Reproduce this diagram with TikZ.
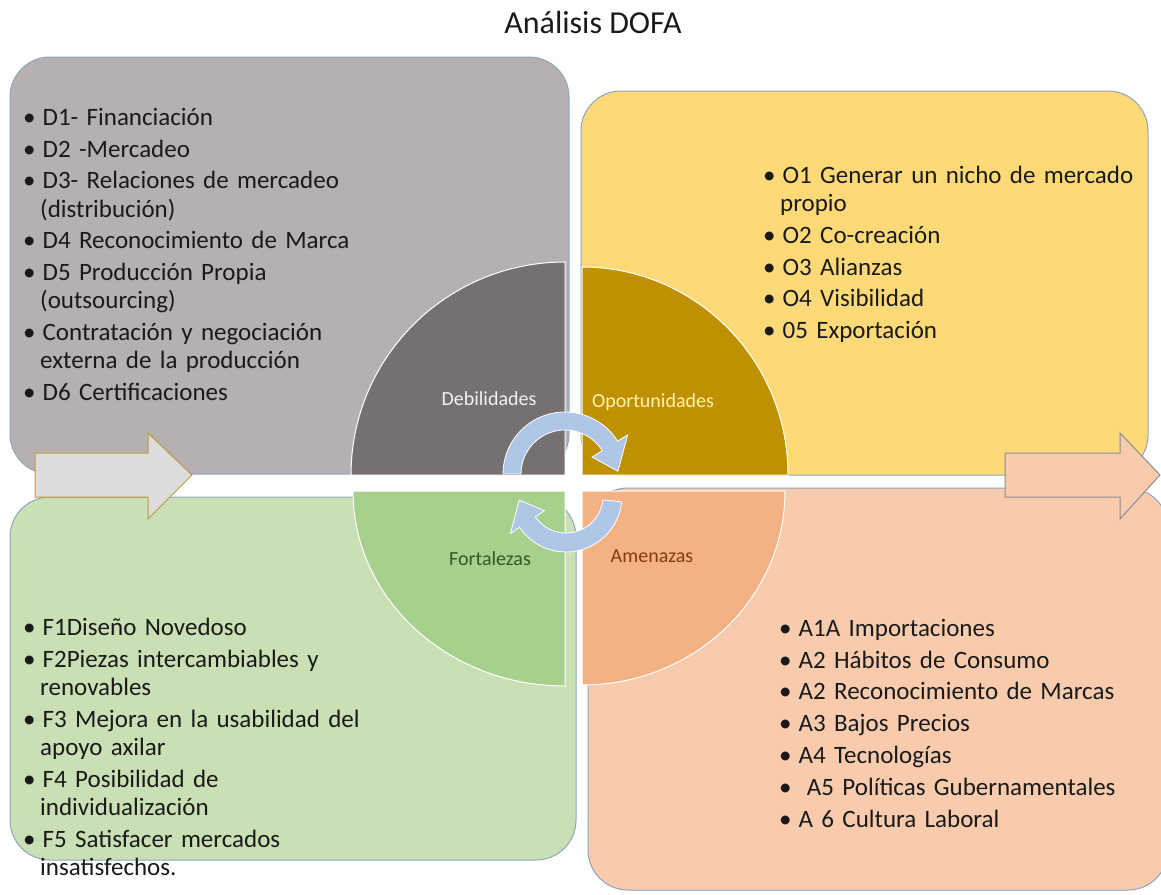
\documentclass[tikz,border=0pt]{standalone}
\usepackage{fontspec}
\setmainfont{Carlito}
\usetikzlibrary{calc}
\definecolor{Ink}{HTML}{1A1A1A}
\definecolor{Frame}{HTML}{8DA5C0}
\definecolor{GrayBox}{HTML}{B6B1B0}
\definecolor{GrayPie}{HTML}{767070}
\definecolor{GoldBox}{HTML}{FED978}
\definecolor{GoldPie}{HTML}{BF9000}
\definecolor{GreenBox}{HTML}{C9E0B5}
\definecolor{GreenPie}{HTML}{A8D08D}
\definecolor{PeachBox}{HTML}{F8CBAD}
\definecolor{PeachPie}{HTML}{F4B183}
\definecolor{Cycle}{HTML}{B0C6E6}
\definecolor{ArrowGray}{HTML}{DCDCDC}
\definecolor{ArrowEdge}{HTML}{C09A3A}
\definecolor{ArrowDark}{HTML}{8C8C8C}
\definecolor{LabelGreen}{HTML}{385723}
\definecolor{LabelBrown}{HTML}{843C0C}
\definecolor{LabelCream}{HTML}{FFF2B3}
\definecolor{LabelLight}{HTML}{F2F2F2}
\newenvironment{dofalist}{\begin{list}{\textbullet}{\setlength{\leftmargin}{14pt}\setlength{\labelsep}{7pt}\setlength{\labelwidth}{10pt}\setlength{\itemsep}{3.6pt}\setlength{\parsep}{0pt}\setlength{\topsep}{0pt}\setlength{\partopsep}{0pt}}}{\end{list}}

\begin{document}
\begin{tikzpicture}[
  x=1pt,y=-1pt,
  box/.style={draw=Frame,line width=1pt,rounded corners=40pt},
  pie/.style={draw=white,line width=1pt},
  blockarrow/.style={line width=1pt,line join=miter},
  cyclearrow/.style={fill=Cycle,draw=white,line width=0.8pt},
  items/.style={anchor=base west,inner sep=0pt,text width=370pt,align=left,font=\fontsize{25}{28.2}\selectfont,text=Ink},
  quad/.style={anchor=base,inner sep=0pt,font=\fontsize{20}{24}\selectfont}
]
\useasboundingbox (0,0) rectangle (1161,894);
\node[anchor=base,inner sep=0pt,font=\fontsize{32}{36}\selectfont,text=Ink] (title) at (593,33) {Análisis DOFA};
\draw[box,fill=GrayBox] (10,57) rectangle (569,474);
\draw[box,fill=GoldBox] (581,91) rectangle (1148,475);
\draw[box,fill=GreenBox] (10,497) rectangle (576,860);
\draw[box,fill=PeachBox] (588,488) rectangle (1168,890);
\draw[blockarrow,fill=ArrowGray,draw=ArrowEdge] (35,453) -- (148,453) -- (148,433) -- (192,475) -- (148,519) -- (148,497) -- (35,497) -- cycle;
\draw[blockarrow,fill=PeachBox,draw=ArrowDark] (1005,453) -- (1120,453) -- (1120,433) -- (1160,475) -- (1120,519) -- (1120,497) -- (1005,497) -- cycle;
\draw[pie,fill=GrayPie] (565,475) -- (351,475) arc[start angle=180,end angle=90,x radius=214pt,y radius=213pt] -- cycle;
\draw[pie,fill=GoldPie] (582,475) -- (582,267) arc[start angle=90,end angle=0,x radius=206pt,y radius=208pt] -- cycle;
\draw[pie,fill=GreenPie] (565,491) -- (565,686) arc[start angle=270,end angle=180,x radius=212pt,y radius=195pt] -- cycle;
\draw[pie,fill=PeachPie] (582,491) -- (785,491) arc[start angle=0,end angle=-90,x radius=203pt,y radius=194pt] -- cycle;
\coordinate (c1) at (565,474);
\coordinate (c2) at (566,496);
\draw[cyclearrow] ($(c1)+(180:44pt)$) -- ($(c1)+(180:62pt)$) arc[start angle=180,end angle=32,radius=62pt] -- ($(c1)+(32:74pt)$) -- ($(c1)+(3:53pt)$) -- ($(c1)+(32:32pt)$) -- ($(c1)+(32:44pt)$) arc[start angle=32,end angle=180,radius=44pt] -- cycle;
\draw[cyclearrow] ($(c2)+(-6:37pt)$) -- ($(c2)+(-6:56pt)$) arc[start angle=-6,end angle=-146,radius=56pt] -- ($(c2)+(-146:67pt)$) -- ($(c2)+(-175:47pt)$) -- ($(c2)+(-146:26pt)$) -- ($(c2)+(-146:37pt)$) arc[start angle=-146,end angle=-6,radius=37pt] -- cycle;
\node[quad,text=LabelLight] (deb) at (489,405) {Debilidades};
\node[quad,text=LabelCream] (opo) at (653,407) {Oportunidades};
\node[quad,text=LabelGreen] (fort) at (490,565) {Fortalezas};
\node[quad,text=LabelBrown] (amen) at (652,562) {Amenazas};
\node[items] (dlist) at (26,97) {\begin{dofalist}
  \item D1- Financiación
  \item D2 -Mercadeo
  \item D3- Relaciones de mercadeo\\(distribución)
  \item D4 Reconocimiento de Marca
  \item D5 Producción Propia\\(outsourcing)
  \item Contratación y negociación\\externa de la producción
  \item D6 Certificaciones
\end{dofalist}};
\node[items] (olist) at (766,155) {\begin{dofalist}
  \item O1 Generar un nicho de mercado\\propio
  \item O2 Co-creación
  \item O3 Alianzas
  \item O4 Visibilidad
  \item 05 Exportación
\end{dofalist}};
\node[items] (flist) at (26,607) {\begin{dofalist}
  \item F1Diseño Novedoso
  \item F2Piezas intercambiables y\\renovables
  \item F3 Mejora en la usabilidad del\\apoyo axilar
  \item F4 Posibilidad de\\individualización
  \item F5 Satisfacer mercados\\insatisfechos.
\end{dofalist}};
\node[items] (alist) at (782,608) {\begin{dofalist}
  \item A1A Importaciones
  \item A2 Hábitos de Consumo
  \item A2 Reconocimiento de Marcas
  \item A3 Bajos Precios
  \item A4 Tecnologías
  \item \ A5 Políticas Gubernamentales
  \item A 6 Cultura Laboral
\end{dofalist}};
\end{tikzpicture}
\end{document}
